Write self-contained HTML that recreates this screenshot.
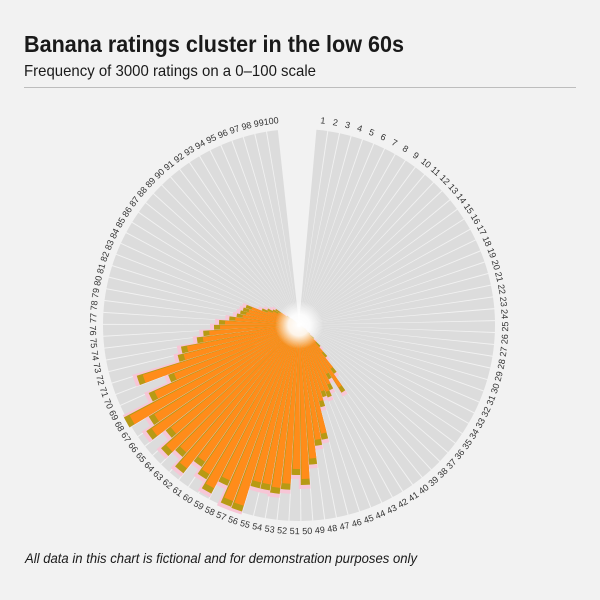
<!DOCTYPE html>
<html><head><meta charset="utf-8"><style>
html,body{margin:0;padding:0;background:#f2f2f2;}
svg{display:block;font-family:"Liberation Sans",sans-serif;}
</style></head><body>
<svg id="s" width="600" height="600" viewBox="0 0 600 600">
<rect width="600" height="600" fill="#f2f2f2"/>
<text x="24" y="52" font-size="23" font-weight="bold" fill="#1a1a1a" textLength="380" lengthAdjust="spacingAndGlyphs">Banana ratings cluster in the low 60s</text>
<text x="24" y="76" font-size="16" fill="#1a1a1a" textLength="292" lengthAdjust="spacingAndGlyphs">Frequency of 3000 ratings on a 0–100 scale</text>
<line x1="24" y1="87.5" x2="576" y2="87.5" stroke="#bdbdbd" stroke-width="1"/>
<g id="bg"></g>
<g id="bars"></g>
<defs><radialGradient id="glow"><stop offset="0" stop-color="#fff" stop-opacity="1"/><stop offset="0.45" stop-color="#fff" stop-opacity="0.9"/><stop offset="1" stop-color="#fff" stop-opacity="0"/></radialGradient></defs>
<circle cx="299" cy="325" r="24" fill="url(#glow)"/>
<g id="labels" font-size="9" fill="#333" text-anchor="middle">
<text>1</text><text>2</text><text>3</text><text>4</text><text>5</text><text>6</text><text>7</text><text>8</text><text>9</text><text>10</text>
<text>11</text><text>12</text><text>13</text><text>14</text><text>15</text><text>16</text><text>17</text><text>18</text><text>19</text><text>20</text>
<text>21</text><text>22</text><text>23</text><text>24</text><text>25</text><text>26</text><text>27</text><text>28</text><text>29</text><text>30</text>
<text>31</text><text>32</text><text>33</text><text>34</text><text>35</text><text>36</text><text>37</text><text>38</text><text>39</text><text>40</text>
<text>41</text><text>42</text><text>43</text><text>44</text><text>45</text><text>46</text><text>47</text><text>48</text><text>49</text><text>50</text>
<text>51</text><text>52</text><text>53</text><text>54</text><text>55</text><text>56</text><text>57</text><text>58</text><text>59</text><text>60</text>
<text>61</text><text>62</text><text>63</text><text>64</text><text>65</text><text>66</text><text>67</text><text>68</text><text>69</text><text>70</text>
<text>71</text><text>72</text><text>73</text><text>74</text><text>75</text><text>76</text><text>77</text><text>78</text><text>79</text><text>80</text>
<text>81</text><text>82</text><text>83</text><text>84</text><text>85</text><text>86</text><text>87</text><text>88</text><text>89</text><text>90</text>
<text>91</text><text>92</text><text>93</text><text>94</text><text>95</text><text>96</text><text>97</text><text>98</text><text>99</text><text>100</text>
</g>
<text x="25" y="563" font-size="13.5" font-style="italic" fill="#1a1a1a" textLength="392" lengthAdjust="spacingAndGlyphs">All data in this chart is fictional and for demonstration purposes only</text>
</svg>
<script>
var cx=299,cy=325,R=196,step=3.49,a0=6.7;
var v={31:3,32:5,33:4,34:8,35:10,36:14,37:20,38:30,39:42,40:60,41:80,42:62,43:72,44:78,45:76,46:85,47:117,48:122,49:140,50:160,51:150,52:165,53:170,54:168,55:168,56:195,57:194,58:176,59:190,60:180,61:172,62:188,63:176,64:185,65:170,66:186,67:176,68:198,69:165,70:140,71:170,72:125,73:120,74:103,75:96,76:85,77:80,78:70,79:63,80:60,81:58,82:56,83:40,84:35,85:30,86:28,87:15,88:10,89:5,90:3};
function P(r,a){a=a*Math.PI/180;return (cx+r*Math.sin(a)).toFixed(2)+","+(cy-r*Math.cos(a)).toFixed(2);}
function wedge(r0,r1,a1,a2,fill){return '<path d="M'+P(r0,a1)+' L'+P(r1,a1)+' A'+r1+','+r1+' 0 0 1 '+P(r1,a2)+' L'+P(r0,a2)+' Z" fill="'+fill+'"/>';}
var bg='',bars='';
for(var i=1;i<=100;i++){
 var a=a0+(i-1)*step;
 bg+=wedge(4,R,a-step/2+0.15,a+step/2-0.15,'#dcdcdc');
}
for(var i=1;i<=100;i++){
 var a=a0+(i-1)*step, r=v[i]||0;
 if(r>0) bars+=wedge(2,Math.min(r+4,R+2),a-step/2,a+step/2+0.6,'#f7c6d6');
}
for(var i=1;i<=100;i++){
 var a=a0+(i-1)*step, r=v[i]||0;
 if(r>0){
  bars+=wedge(2,r,a-step/2+0.1,a+step/2-0.1,'#b79a14');
  bars+=wedge(2,Math.max(r-6,2),a-step/2+0.1,a+step/2-0.45,'#ff8c1a');
 }
}
document.getElementById('bg').innerHTML=bg;
document.getElementById('bars').innerHTML=bars;
var ts=document.getElementById('labels').getElementsByTagName('text');
for(var i=0;i<ts.length;i++){
 var a=a0+i*step, rr=206, rad=a*Math.PI/180;
 var x=cx+rr*Math.sin(rad), y=cy-rr*Math.cos(rad);
 var rot=(a>90&&a<270)?a+180:a;
 ts[i].setAttribute('x',0);ts[i].setAttribute('y',3.2);
 ts[i].setAttribute('transform','translate('+x.toFixed(2)+','+y.toFixed(2)+') rotate('+rot.toFixed(2)+')');
}
</script>
</body></html>
